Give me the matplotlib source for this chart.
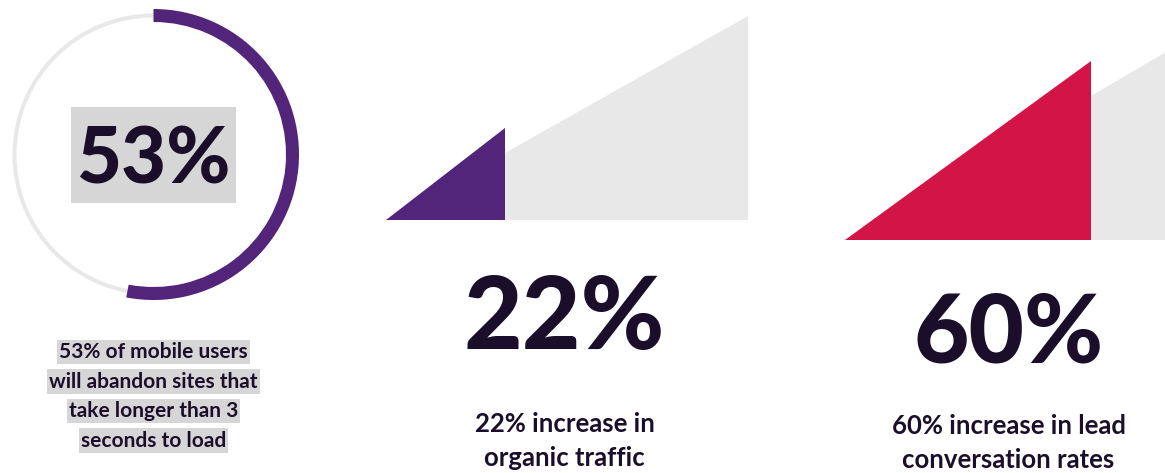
import matplotlib.pyplot as plt
from matplotlib.patches import Wedge, Polygon, Rectangle

W, H = 1165, 473

# stats shown on the page
stat_values = [53, 22, 60]
stat_labels = ["53%", "22%", "60%"]
captions = [
    ["53% of mobile users", "will abandon sites that", "take longer than 3", "seconds to load"],
    ["22% increase in", "organic traffic"],
    ["60% increase in lead", "conversation rates"],
]
# share of each grey ramp covered by the coloured wedge (width, height)
ramp_fill_w = [0.33, 0.68]
ramp_fill_h = [0.45, 0.845]

purple = "#53257a"
red = "#d31447"
light = "#e8e8e8"
ink = "#1b0e2a"
highlight = "#d6d6d6"

plt.rcParams["font.family"] = ["Lato", "DejaVu Sans"]

fig = plt.figure(figsize=(W / 100, H / 100), dpi=100)
ax = fig.add_axes([0, 0, 1, 1])
ax.set_xlim(0, W)
ax.set_ylim(H, 0)
ax.axis("off")

# --- ring gauge ---
cx, cy, r = 153.5, 154.5, 139
ax.add_patch(Wedge((cx, cy), r + 2, 0, 360, width=4, color=light, lw=0))
ax.add_patch(Wedge((cx, cy), r + 6.5, -90, -90 + 360 * stat_values[0] / 100,
                   width=13, color=purple, lw=0))
ax.add_patch(Rectangle((71, 107), 165, 96, color=highlight, lw=0))
ax.text(cx, 183, stat_labels[0], ha="center", va="baseline",
        fontsize=56, fontweight="black", color=ink)

for i, line in enumerate(captions[0]):
    ax.text(cx, 358 + i * 29.5, line, ha="center", va="baseline",
            fontsize=15, fontweight="bold", color=ink,
            bbox=dict(boxstyle="square,pad=0.1", fc=highlight, ec="none"))

# --- ramps ---
ramps = [
    dict(x0=386, y0=220, w=362, h=204, color=purple, cx=564.5, big=349, cap=432, size=73),
    dict(x0=845, y0=240, w=362, h=212, color=red, cx=1008.5, big=362, cap=434, size=69),
]
for k, rp in enumerate(ramps):
    x0, y0, w, h = rp["x0"], rp["y0"], rp["w"], rp["h"]
    ax.add_patch(Polygon([(x0, y0), (x0 + w, y0), (x0 + w, y0 - h)],
                         closed=True, color=light, lw=0))
    fw, fh = w * ramp_fill_w[k], h * ramp_fill_h[k]
    ax.add_patch(Polygon([(x0, y0), (x0 + fw, y0), (x0 + fw, y0 - fh)],
                         closed=True, color=rp["color"], lw=0))
    ax.text(rp["cx"], rp["big"], stat_labels[k + 1], ha="center", va="baseline",
            fontsize=rp["size"], fontweight="black", color=ink)
    for j, line in enumerate(captions[k + 1]):
        ax.text(rp["cx"], rp["cap"] + j * 34, line, ha="center", va="baseline",
                fontsize=18.5, fontweight="bold", color=ink)

fig.savefig("out.png", dpi=100)
